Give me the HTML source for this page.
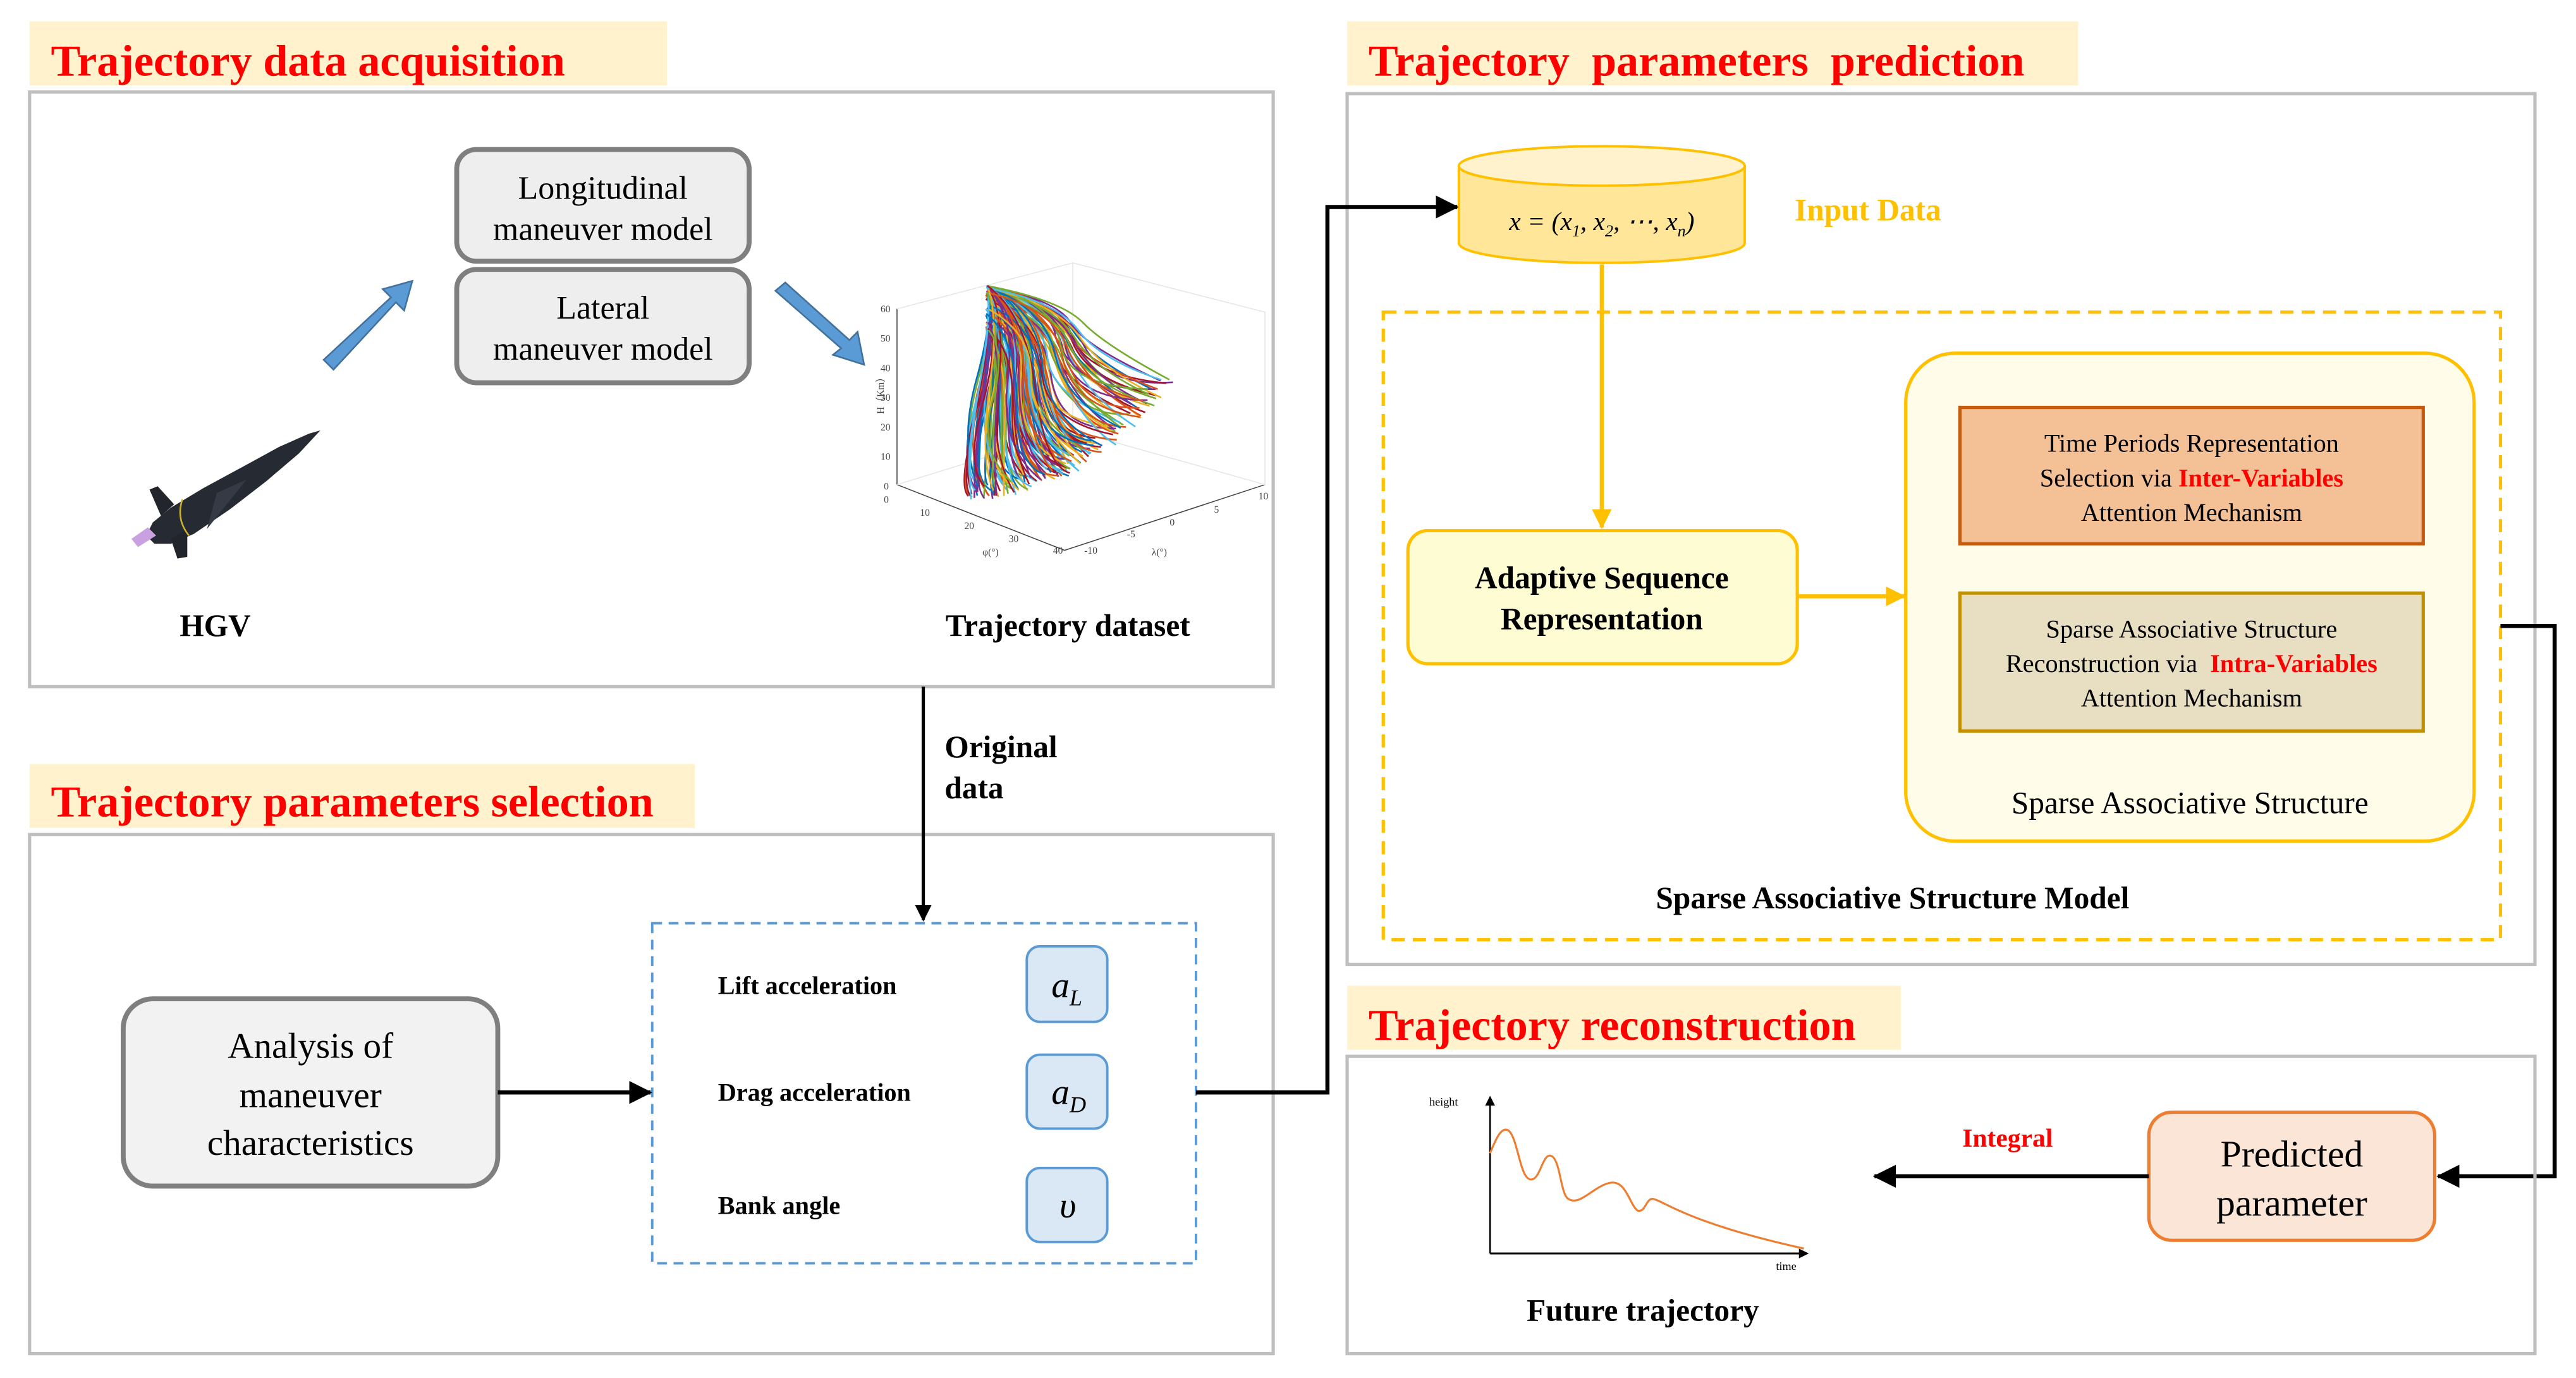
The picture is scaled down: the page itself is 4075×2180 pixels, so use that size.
<!DOCTYPE html>
<html><head><meta charset="utf-8"><style>
html,body{margin:0;padding:0;background:#fff}
svg{display:block}
text{font-family:"Liberation Serif",serif}
</style></head><body>
<svg id="s" width="4075" height="2180" viewBox="0 0 1568 838.8" preserveAspectRatio="none" xmlns="http://www.w3.org/2000/svg">
<defs>
<marker id="ab" markerWidth="10" markerHeight="10" refX="9" refY="5" orient="auto" markerUnits="userSpaceOnUse"><path d="M0,0 L10,5 L0,10 z" fill="#000"/></marker>
<marker id="ab2" markerWidth="14" markerHeight="14" refX="13" refY="7" orient="auto" markerUnits="userSpaceOnUse"><path d="M0,0 L14,7 L0,14 z" fill="#000"/></marker>
<marker id="ay" markerWidth="12" markerHeight="12" refX="11" refY="6" orient="auto" markerUnits="userSpaceOnUse"><path d="M0,0 L12,6 L0,12 z" fill="#ffc000"/></marker>
<marker id="as" markerWidth="6" markerHeight="6" refX="5" refY="3" orient="auto" markerUnits="userSpaceOnUse"><path d="M0,0 L6,3 L0,6 z" fill="#000"/></marker>
</defs>

<!-- Section 1 -->
<rect x="18" y="13" width="388" height="39" fill="#fff2cc"/>
<text x="31" y="46" font-size="27" font-weight="bold" fill="#ff0000">Trajectory data acquisition</text>
<rect x="18" y="56" width="757" height="362" fill="none" stroke="#bfbfbf" stroke-width="2"/>
<rect x="278" y="91" width="178" height="68" rx="12" fill="#eeeeee" stroke="#7f7f7f" stroke-width="3"/>
<text x="367" y="121" font-size="20" text-anchor="middle">Longitudinal</text>
<text x="367" y="146" font-size="20" text-anchor="middle">maneuver model</text>
<rect x="278" y="164" width="178" height="69" rx="12" fill="#eeeeee" stroke="#7f7f7f" stroke-width="3"/>
<text x="367" y="194" font-size="20" text-anchor="middle">Lateral</text>
<text x="367" y="219" font-size="20" text-anchor="middle">maneuver model</text>
<polygon points="197,219 238,181 233,176 251,171 246,189 241,184 203,225" fill="#5b9bd5" stroke="#41719c" stroke-width="1"/>
<polygon points="478,172 517,207 522,202 526,222 507,216 512,212 472,177" fill="#5b9bd5" stroke="#41719c" stroke-width="1"/>
<!-- HGV -->
<g>
<path d="M195,262 L188,264 L170,272 L148,284 L124,297 L104,309 L93,318 L89,326 L94,331 L104,331 L118,325 L140,310 L162,293 L182,276 Z" fill="#262a33"/>
<path d="M132,300 L150,292 L126,322 Z" fill="#353a44"/>
<path d="M91,298 L96,296 L106,307 L98,314 Z" fill="#22252b"/>
<path d="M104,328 L114,322 L114,339 L108,340 Z" fill="#22252b"/>
<path d="M80,328 L90,321 L95,326 L84,333 Z" fill="#c9a0e0"/>
<path d="M111,304 Q107,316 115,326" fill="none" stroke="#c9b030" stroke-width="1"/>
</g>
<text x="131" y="387" font-size="19" font-weight="bold" text-anchor="middle">HGV</text>
<!-- 3D plot -->
<g id="plot">
<path d="M546,295 L546,188 M546,295 L648,335 M648,335 L770,295" stroke="#444" fill="none" stroke-width="0.6"/>
<path d="M546,188 L653,160 L653,262 M653,160 L770,190 L770,295 M653,262 L546,295 M653,262 L770,295" stroke="#e6e6e6" fill="none" stroke-width="0.6"/>
<g font-size="6" fill="#444" font-family="Liberation Sans">
<text x="536" y="190">60</text><text x="536" y="208">50</text><text x="536" y="226">40</text><text x="536" y="244">30</text><text x="536" y="262">20</text><text x="536" y="280">10</text><text x="538" y="298">0</text><text x="538" y="306">0</text>
<text x="560" y="314">10</text><text x="587" y="322">20</text><text x="614" y="330">30</text><text x="641" y="337">40</text>
<text x="660" y="337">-10</text><text x="686" y="327">-5</text><text x="712" y="320">0</text><text x="739" y="312">5</text><text x="766" y="304">10</text>
<text x="598" y="338">φ(°)</text><text x="701" y="338">λ(°)</text>
<text x="528" y="258" transform="rotate(-90 530 250)">H（Km）</text>
</g>
<g id="lines" fill="none"></g>
</g>
<text x="650" y="387" font-size="19" font-weight="bold" text-anchor="middle">Trajectory dataset</text>

<!-- Section 2 -->
<rect x="820" y="13" width="445" height="39" fill="#fff2cc"/>
<text x="833" y="46" font-size="27" font-weight="bold" fill="#ff0000" xml:space="preserve">Trajectory  parameters  prediction</text>
<rect x="820" y="57" width="723" height="530" fill="none" stroke="#bfbfbf" stroke-width="2"/>
<path d="M888,101 L888,148 A87,12 0 0 0 1062,148 L1062,101" fill="#ffe699" stroke="#ffc000" stroke-width="1.5"/>
<ellipse cx="975" cy="101" rx="87" ry="12" fill="#fff2cc" stroke="#ffc000" stroke-width="1.5"/>
<text x="975" y="140" font-size="16" font-style="italic" text-anchor="middle">x = (x<tspan font-size="10" dy="4">1</tspan><tspan dy="-4">, x</tspan><tspan font-size="10" dy="4">2</tspan><tspan dy="-4">, ⋯, x</tspan><tspan font-size="10" dy="4">n</tspan><tspan dy="-4">)</tspan></text>
<text x="1137" y="134" font-size="19" font-weight="bold" fill="#ffc000" text-anchor="middle">Input Data</text>
<rect x="842" y="190" width="680" height="382" fill="none" stroke="#ffc000" stroke-width="2" stroke-dasharray="8,5"/>
<line x1="975" y1="161" x2="975" y2="321" stroke="#ffc000" stroke-width="2.5" marker-end="url(#ay)"/>
<rect x="857" y="323" width="237" height="81" rx="12" fill="#fefcd2" stroke="#ffc000" stroke-width="2"/>
<text x="975" y="358" font-size="19" font-weight="bold" text-anchor="middle">Adaptive Sequence</text>
<text x="975" y="383" font-size="19" font-weight="bold" text-anchor="middle">Representation</text>
<line x1="1094" y1="363" x2="1159" y2="363" stroke="#ffc000" stroke-width="2.5" marker-end="url(#ay)"/>
<rect x="1160" y="215" width="346" height="297" rx="30" fill="#fffdea" stroke="#ffc000" stroke-width="2"/>
<rect x="1193" y="248" width="282" height="83" fill="#f4c096" stroke="#c55a11" stroke-width="2"/>
<text x="1334" y="275" font-size="15.5" text-anchor="middle">Time Periods Representation</text>
<text x="1334" y="296" font-size="15.5" text-anchor="middle">Selection via <tspan fill="#ff0000" font-weight="bold">Inter-Variables</tspan></text>
<text x="1334" y="317" font-size="15.5" text-anchor="middle">Attention Mechanism</text>
<rect x="1193" y="361" width="282" height="84" fill="#e8dfc2" stroke="#bf9000" stroke-width="2"/>
<text x="1334" y="388" font-size="15.5" text-anchor="middle">Sparse Associative Structure</text>
<text x="1334" y="409" font-size="15.5" text-anchor="middle" xml:space="preserve">Reconstruction via  <tspan fill="#ff0000" font-weight="bold">Intra-Variables</tspan></text>
<text x="1334" y="430" font-size="15.5" text-anchor="middle">Attention Mechanism</text>
<text x="1333" y="495" font-size="19" text-anchor="middle">Sparse Associative Structure</text>
<text x="1152" y="553" font-size="19" font-weight="bold" text-anchor="middle">Sparse Associative Structure Model</text>

<!-- Section 3 -->
<rect x="18" y="465" width="405" height="39" fill="#fff2cc"/>
<text x="31" y="497" font-size="27" font-weight="bold" fill="#ff0000">Trajectory parameters selection</text>
<rect x="18" y="508" width="757" height="316" fill="none" stroke="#bfbfbf" stroke-width="2"/>
<line x1="562" y1="418" x2="562" y2="560" stroke="#000" stroke-width="2" marker-end="url(#ab)"/>
<text x="575" y="461" font-size="19" font-weight="bold">Original</text>
<text x="575" y="486" font-size="19" font-weight="bold">data</text>
<rect x="397" y="562" width="331" height="207" fill="none" stroke="#5b9bd5" stroke-width="1.5" stroke-dasharray="6,4"/>
<rect x="75" y="608" width="228" height="114" rx="18" fill="#f2f2f2" stroke="#7f7f7f" stroke-width="3"/>
<text x="189" y="644" font-size="22" text-anchor="middle">Analysis of</text>
<text x="189" y="674" font-size="22" text-anchor="middle">maneuver</text>
<text x="189" y="703" font-size="22" text-anchor="middle">characteristics</text>
<line x1="303" y1="665" x2="396" y2="665" stroke="#000" stroke-width="2.5" marker-end="url(#ab2)"/>
<text x="437" y="605" font-size="15.5" font-weight="bold">Lift acceleration</text>
<text x="437" y="670" font-size="15.5" font-weight="bold">Drag acceleration</text>
<text x="437" y="739" font-size="15.5" font-weight="bold">Bank angle</text>
<rect x="625" y="576" width="49" height="46" rx="8" fill="#dae8f5" stroke="#5b9bd5" stroke-width="1.5"/>
<rect x="625" y="642" width="49" height="45" rx="8" fill="#dae8f5" stroke="#5b9bd5" stroke-width="1.5"/>
<rect x="625" y="711" width="49" height="45" rx="8" fill="#dae8f5" stroke="#5b9bd5" stroke-width="1.5"/>
<text x="640" y="607" font-size="22" font-style="italic">a<tspan font-size="14" dy="5">L</tspan></text>
<text x="640" y="672" font-size="22" font-style="italic">a<tspan font-size="14" dy="5">D</tspan></text>
<text x="650" y="741" font-size="22" font-style="italic" text-anchor="middle">υ</text>
<polyline points="728,665 808,665 808,126 887,126" fill="none" stroke="#000" stroke-width="2.5" marker-end="url(#ab2)"/>
<polyline points="1522,381 1555,381 1555,716 1484,716" fill="none" stroke="#000" stroke-width="2.5" marker-end="url(#ab2)"/>

<!-- Section 4 -->
<rect x="820" y="600" width="337" height="39" fill="#fff2cc"/>
<text x="833" y="633" font-size="27" font-weight="bold" fill="#ff0000">Trajectory reconstruction</text>
<rect x="820" y="643" width="723" height="181" fill="none" stroke="#bfbfbf" stroke-width="2"/>
<rect x="1308" y="677" width="174" height="78" rx="14" fill="#fbe5d6" stroke="#ed7d31" stroke-width="2"/>
<text x="1395" y="710" font-size="23" text-anchor="middle">Predicted</text>
<text x="1395" y="740" font-size="23" text-anchor="middle">parameter</text>
<line x1="1308" y1="716" x2="1141" y2="716" stroke="#000" stroke-width="2.5" marker-end="url(#ab2)"/>
<text x="1222" y="698" font-size="16" font-weight="bold" fill="#ff0000" text-anchor="middle">Integral</text>
<line x1="907" y1="763" x2="907" y2="668" stroke="#000" stroke-width="1" marker-end="url(#as)"/>
<line x1="907" y1="763" x2="1100" y2="763" stroke="#000" stroke-width="1.2" marker-end="url(#as)"/>
<text x="870" y="673" font-size="7">height</text>
<text x="1081" y="773" font-size="7">time</text>
<path d="M907,702 C911,692 914,686 918,688 C924,692 925,718 932,718 C938,718 939,700 945,704 C950,708 950,728 955,730 C962,734 970,722 980,720 C990,718 992,734 997,737 C1002,738 1002,728 1007,730 C1014,732 1030,745 1098,760" fill="none" stroke="#ed7d31" stroke-width="1.2"/>
<text x="1000" y="804" font-size="19" font-weight="bold" text-anchor="middle">Future trajectory</text>
</svg>
<script>
(function(){
var g=document.getElementById('lines');
var cols=['#0072bd','#d95319','#edb120','#7e2f8e','#77ac30','#4dbeee','#a2142f'];
var s='';
var seed=7;function r(){seed=(seed*9301+49297)%233280;return seed/233280;}
for(var i=0;i<180;i++){
 var t=r();
 var ex=590+t*122+(r()-0.5)*10;
 var ey=300-t*t*68+(r()-0.5)*10;
 var sx=600+r()*4, sy=174+r()*40*(1-t);
 if(r()<0.35){sy=174;sx=601;}
 var cx=sx+(ex-sx)*0.35+6, cy=sy+(ey-sy)*0.15;
 var mx=(sx+ex)/2+(r()-0.5)*10, my=(sy+ey)/2+(r()-0.5)*14;
 s+='<path d="M'+sx.toFixed(1)+','+sy.toFixed(1)+' Q'+cx.toFixed(1)+','+cy.toFixed(1)+' '+mx.toFixed(1)+','+my.toFixed(1)+' T'+ex.toFixed(1)+','+ey.toFixed(1)+'" stroke="'+cols[i%7]+'" stroke-width="1" fill="none"/>';
}
g.innerHTML=s;
})();
</script>
</body></html>
